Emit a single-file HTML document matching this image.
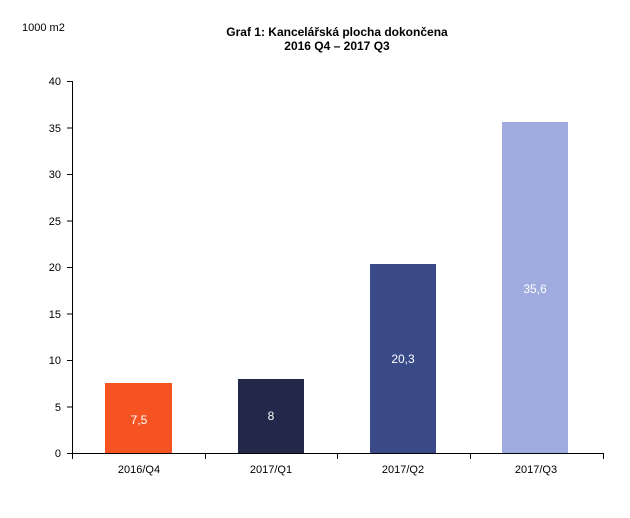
<!DOCTYPE html>
<html><head><meta charset="utf-8"><style>body{margin:0;background:#fff}svg{display:block}</style></head><body>
<svg width="630" height="518" xmlns="http://www.w3.org/2000/svg" font-family="Liberation Sans, DejaVu Sans, sans-serif">
<rect width="630" height="518" fill="#fff"/>
<text x="22" y="31" font-size="11" fill="#000">1000 m2</text>
<text x="337" y="36" font-size="12" font-weight="bold" text-anchor="middle">Graf 1: Kancelářská plocha dokončena</text>
<text x="337" y="50" font-size="12" font-weight="bold" text-anchor="middle">2016 Q4 – 2017 Q3</text>
<g font-size="11" text-anchor="end">
<text x="61" y="85">40</text><text x="61" y="132">35</text><text x="61" y="178">30</text><text x="61" y="225">25</text><text x="61" y="271">20</text><text x="61" y="318">15</text><text x="61" y="364">10</text><text x="61" y="411">5</text><text x="61" y="457">0</text>
</g>
<g stroke="#000" stroke-width="1">
<line x1="72.5" y1="81" x2="72.5" y2="453"/>
<line x1="67" y1="81.5" x2="72" y2="81.5"/><line x1="67" y1="128" x2="72" y2="128"/><line x1="67" y1="174.5" x2="72" y2="174.5"/><line x1="67" y1="221" x2="72" y2="221"/><line x1="67" y1="267.5" x2="72" y2="267.5"/><line x1="67" y1="314" x2="72" y2="314"/><line x1="67" y1="360.5" x2="72" y2="360.5"/><line x1="67" y1="407" x2="72" y2="407"/>
<line x1="67" y1="453.5" x2="604" y2="453.5"/>
<line x1="72.5" y1="453" x2="72.5" y2="459"/><line x1="205.5" y1="453" x2="205.5" y2="459"/><line x1="337.5" y1="453" x2="337.5" y2="459"/><line x1="470.5" y1="453" x2="470.5" y2="459"/><line x1="603.5" y1="453" x2="603.5" y2="459"/>
</g>
<rect x="105" y="383" width="67" height="70" fill="#f55422"/>
<rect x="238" y="379" width="66" height="74" fill="#222849"/>
<rect x="370" y="264" width="66" height="189" fill="#3a4a88"/>
<rect x="502" y="122" width="66" height="331" fill="#a0abe0"/>
<g font-size="12" fill="#fff" text-anchor="middle">
<text x="139" y="424">7,5</text><text x="271" y="420">8</text><text x="403" y="363">20,3</text><text x="535" y="293">35,6</text>
</g>
<g font-size="11" text-anchor="middle">
<text x="139" y="473">2016/Q4</text><text x="271" y="473">2017/Q1</text><text x="403" y="473">2017/Q2</text><text x="536" y="473">2017/Q3</text>
</g>
</svg>
</body></html>
